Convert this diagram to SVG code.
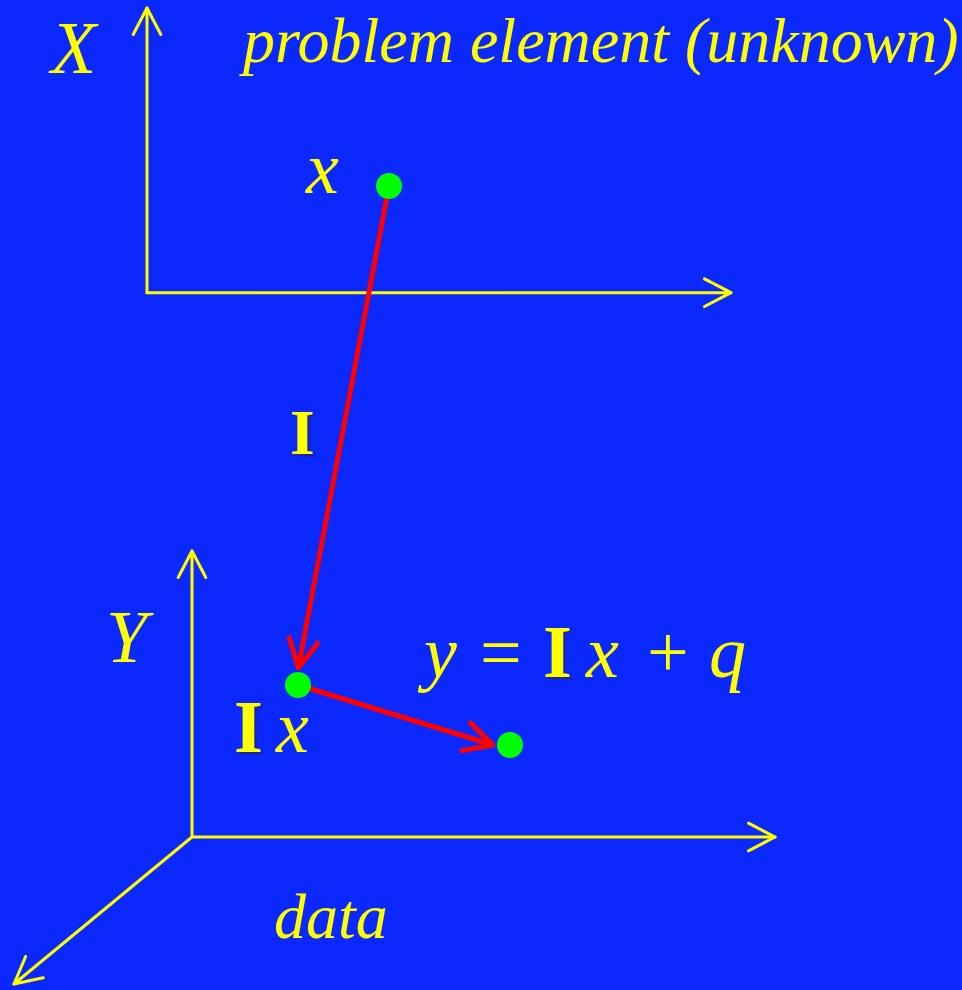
<svg xmlns="http://www.w3.org/2000/svg" width="962" height="990" viewBox="0 0 962 990">
<defs>
<style>
.axis{stroke:#ffff00;stroke-width:3;fill:none;stroke-linecap:round}
.conn{stroke:#ff0000;stroke-width:5;fill:none}
.dot{fill:#00ff00}
.it{font-family:"Liberation Serif","Times New Roman",serif;font-style:italic;fill:#ffff00}
.rm{font-family:"Liberation Serif","Times New Roman",serif;fill:#ffff00}
.bd{font-family:"Liberation Serif","Times New Roman",serif;font-weight:bold;fill:#ffff00;filter:url(#shadow)}
</style>
<filter id="shadow" x="-20%" y="-20%" width="150%" height="150%">
<feDropShadow dx="2" dy="2" stdDeviation="0.8" flood-color="#202050" flood-opacity="0.7"/>
</filter>
<marker id="ya" markerUnits="userSpaceOnUse" markerWidth="40" markerHeight="40" viewBox="-30 -20 40 40" refX="0" refY="0" orient="auto" overflow="visible">
<path d="M -26.5 -13.8 L 0 0 L -26.5 13.8" fill="none" stroke="#ffff00" stroke-width="3" stroke-linecap="round" stroke-linejoin="round"/>
</marker>
<marker id="ra" markerUnits="userSpaceOnUse" markerWidth="40" markerHeight="40" viewBox="-30 -20 40 40" refX="0" refY="0" orient="auto" overflow="visible">
<path d="M -28 -14.5 L 0 0 L -28 14.5" fill="none" stroke="#ff0000" stroke-width="5" stroke-linecap="round" stroke-linejoin="round"/>
</marker>
</defs>
<rect x="0" y="0" width="962" height="990" fill="#0b29ff"/>

<g id="axes-X">
<line class="axis" x1="147" y1="292.7" x2="147" y2="8" marker-end="url(#ya)"/>
<line class="axis" x1="147" y1="292.7" x2="731" y2="292.7" marker-end="url(#ya)"/>
</g>
<g id="axes-Y">
<line class="axis" x1="192" y1="835" x2="192" y2="551" marker-end="url(#ya)"/>
<line class="axis" x1="192" y1="837" x2="775" y2="837" marker-end="url(#ya)"/>
<line class="axis" x1="192" y1="837" x2="14" y2="984" marker-end="url(#ya)"/>
</g>

<g id="connectors">
<line class="conn" x1="389" y1="186" x2="298.3" y2="668" marker-end="url(#ra)"/>
<line class="conn" x1="298" y1="685" x2="493" y2="745" marker-end="url(#ra)"/>
</g>

<g id="node-x">
<circle class="dot" cx="389" cy="186" r="13"/>
<text class="it" x="306" y="193" font-size="74">x</text>
</g>
<g id="node-Ix">
<circle class="dot" cx="298" cy="685" r="13"/>
<text class="bd" x="234" y="752" font-size="74">I</text>
<text class="it" x="276" y="752" font-size="74">x</text>
</g>
<g id="node-y">
<circle class="dot" cx="510" cy="745" r="13"/>
<text class="it" x="424" y="677" font-size="74">y</text>
<text class="rm" x="480" y="677" font-size="74">=</text>
<text class="bd" x="543" y="677" font-size="74">I</text>
<text class="it" x="586" y="677" font-size="74">x</text>
<text class="rm" x="647" y="677" font-size="74">+</text>
<text class="it" x="709" y="677" font-size="74">q</text>
</g>

<g id="labels">
<text class="it" x="51" y="73" font-size="74">X</text>
<text class="it" x="243" y="62" font-size="64">problem element (unknown)</text>
<text class="bd" x="290" y="454" font-size="63">I</text>
<text class="it" x="106" y="662" font-size="74">Y</text>
<text class="it" x="274" y="938" font-size="64">data</text>
</g>
</svg>
